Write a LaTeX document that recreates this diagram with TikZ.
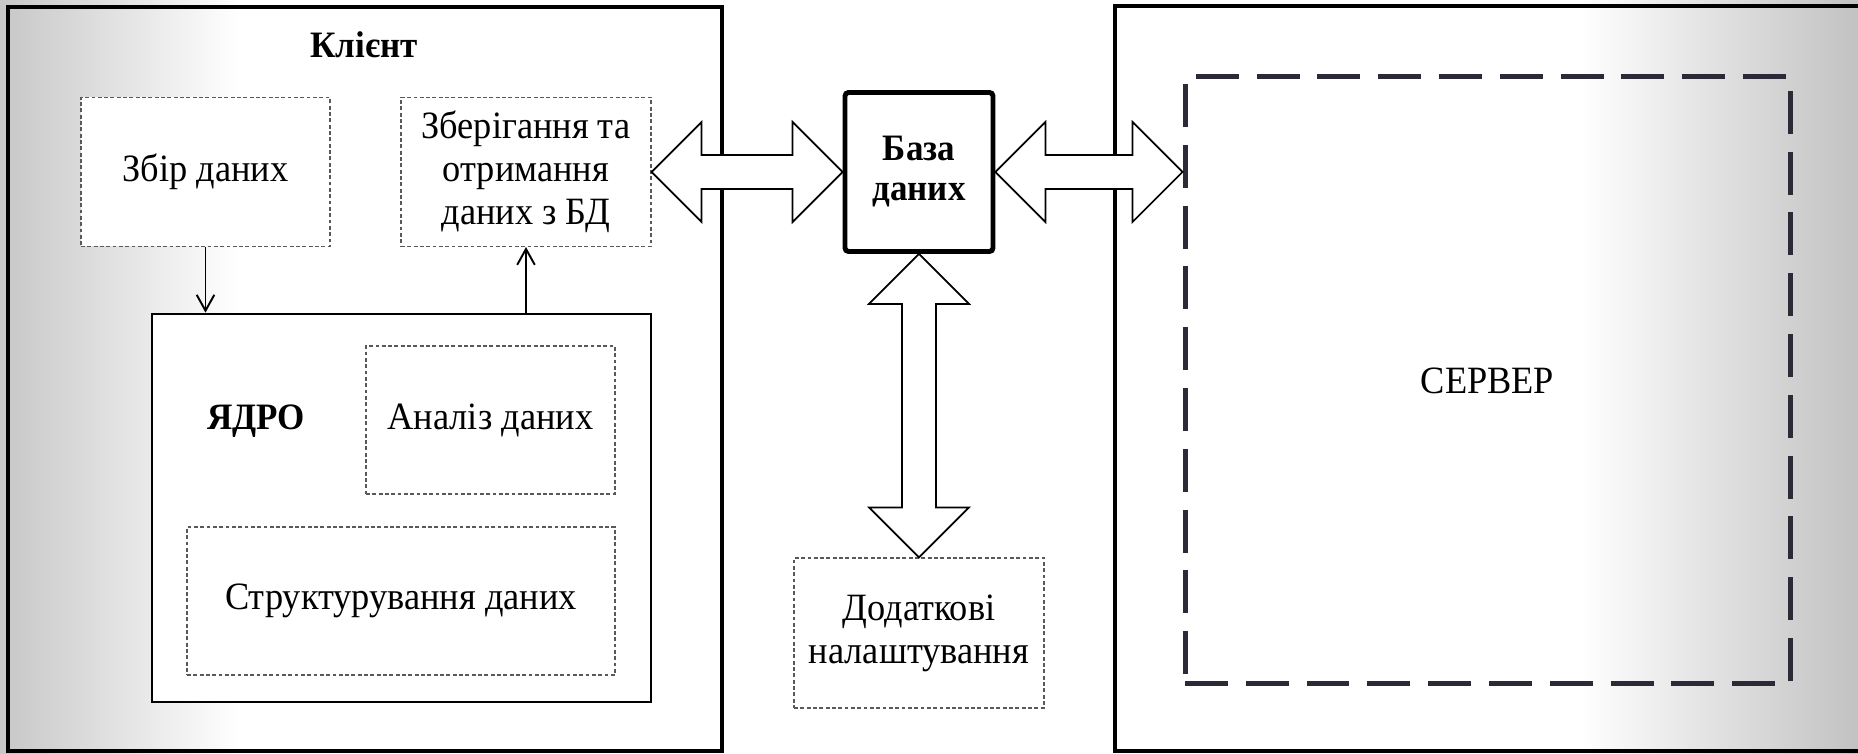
\documentclass[tikz,border=0pt]{standalone}
\usepackage{fontspec}
\setmainfont{Liberation Serif}[FakeStretch=0.94]
\usetikzlibrary{arrows.meta,calc}
\definecolor{dashgray}{RGB}{43,43,56}

\begin{document}
\begin{tikzpicture}[
  frame/.style={draw, line width=1.4pt, inner sep=0pt},
  part/.style={draw=black!65, line width=0.3pt, dash pattern=on 1.1pt off 0.7pt, fill=white, align=center, inner sep=0pt, font=\fontsize{11pt}{12.2pt}\selectfont},
  title/.style={font=\bfseries\fontsize{10.6pt}{11.4pt}\selectfont, align=center},
  link/.style={-{Straight Barb[length=4.5pt,width=5pt]}, line width=0.55pt},
  fat/.style={draw, line width=0.5pt, fill=white}
]
% background
\fill[left color=black!22, right color=white] (0,0) rectangle (2.4,7.54);
\fill[left color=white, right color=black!24] (15.8,0) rectangle (18.58,7.54);
\useasboundingbox (0,0) rectangle (18.58,7.54);

\node[frame, minimum width=7.14cm, minimum height=7.44cm] (client) at (3.65,3.75) {};
\node[frame, minimum width=7.55cm, minimum height=7.45cm] (server) at (14.925,3.755) {};
\node[title] (clientlbl) at (3.64,7.09) {Клієнт};

\node[part, minimum width=2.49cm, minimum height=1.49cm] (collect) at (2.055,5.82) {Збір даних};
\node[part, minimum width=2.50cm, minimum height=1.49cm] (store) at (5.26,5.82) {Зберігання та\\отримання\\даних з БД};
\node[draw, line width=0.75pt, fill=white, minimum width=4.99cm, minimum height=3.88cm] (core) at (4.015,2.46) {};
\node[title] (corelbl) at (2.56,3.33) {ЯДРО};
\node[part, minimum width=2.49cm, minimum height=1.48cm] (analysis) at (4.905,3.34) {Аналіз даних};
\node[part, minimum width=4.28cm, minimum height=1.48cm] (struct) at (4.01,1.53) {Структурування даних};

\node[title, draw, line width=1.4pt, rounded corners=1pt, fill=white, minimum width=1.48cm, minimum height=1.59cm] (db) at (9.19,5.82) {База\\даних};
\node[part, minimum width=2.50cm, minimum height=1.50cm] (extra) at (9.19,1.21) {Додаткові\\налаштування};
\node[draw=dashgray, line width=1.42pt, dash pattern=on 12.2pt off 5.1pt, minimum width=6.05cm, minimum height=6.07cm, font=\fontsize{11pt}{12.2pt}\selectfont] (srv) at (14.875,3.735) {СЕРВЕР};
\coordinate (srvin) at (srv.west |- db.east);

\draw[link] (collect.south) -- (collect.south |- core.north);
\draw[link] (store.south |- core.north) -- (store.south);

% wide arrows
\draw[fat] (store.east) -- ++(0.5,0.5) -- ++(0,-0.33) -- ($(db.west)+(-0.5,0.17)$) -- ++(0,0.33) -- (db.west) -- ++(-0.5,-0.5) -- ++(0,0.33) -- ($(store.east)+(0.5,-0.17)$) -- ++(0,-0.33) -- cycle;
\draw[fat] (db.east) -- ++(0.5,0.5) -- ++(0,-0.33) -- ($(srvin)+(-0.5,0.17)$) -- ++(0,0.33) -- (srvin) -- ++(-0.5,-0.5) -- ++(0,0.33) -- ($(db.east)+(0.5,-0.17)$) -- ++(0,-0.33) -- cycle;
\draw[fat] (db.south) -- ++(0.5,-0.5) -- ++(-0.33,0) -- ($(extra.north)+(0.17,0.5)$) -- ++(0.33,0) -- (extra.north) -- ++(-0.5,0.5) -- ++(0.33,0) -- ($(db.south)+(-0.17,-0.5)$) -- ++(-0.33,0) -- cycle;
\end{tikzpicture}
\end{document}
